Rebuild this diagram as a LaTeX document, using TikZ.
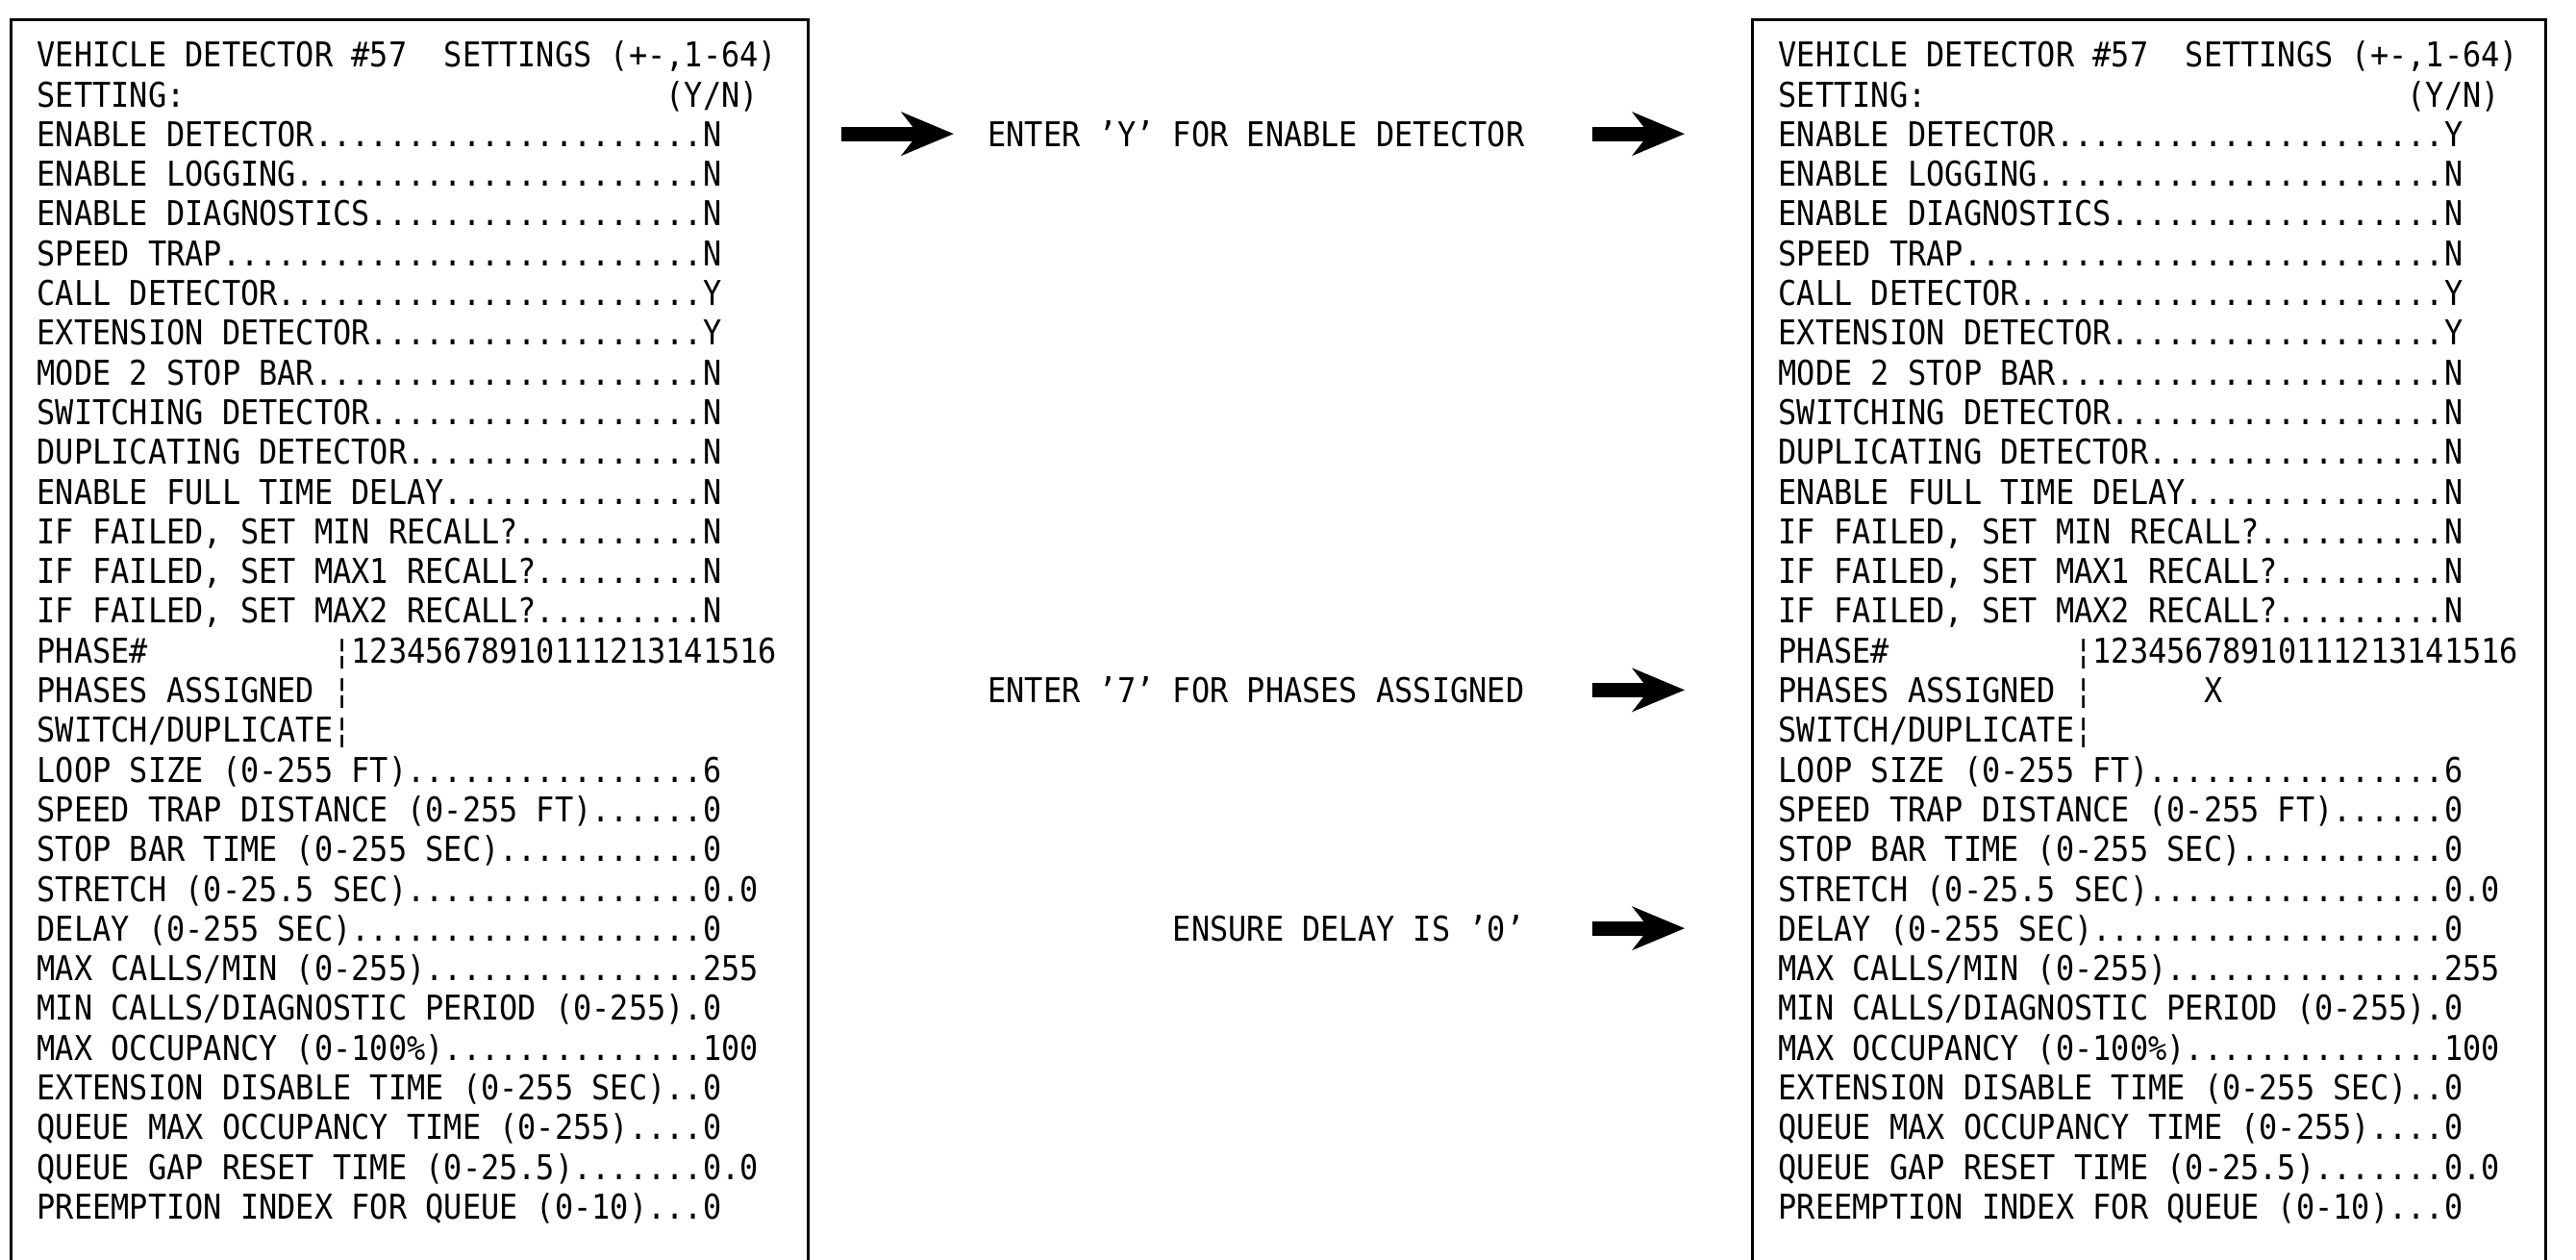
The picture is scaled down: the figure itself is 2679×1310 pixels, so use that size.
\documentclass[tikz,border=0pt]{standalone}
\usepackage{fontspec}
\newfontfamily\scrfont[FakeStretch=0.9]{DejaVu Sans Mono}
\usepackage{tikz}
\usetikzlibrary{positioning,calc,arrows.meta}

\ExplSyntaxOn
\NewDocumentCommand\dotrun{m}{\prg_replicate:nn{#1}{.}}
\NewDocumentCommand\blank{m}{\prg_replicate:nn{#1}{\nobreakspace}}
\ExplSyntaxOff

% one screen: #1 prefix, #2 text x, #3 enable detector, #4 phases assigned
\newcommand{\drawscreen}[4]{%
  \foreach \txt [count=\i] in {%
    {VEHICLE DETECTOR \#57\blank{2}SETTINGS (+-,1-64)},
    {SETTING:\blank{26}(Y/N)},
    {ENABLE DETECTOR\dotrun{21}#3},
    {ENABLE LOGGING\dotrun{22}N},
    {ENABLE DIAGNOSTICS\dotrun{18}N},
    {SPEED TRAP\dotrun{26}N},
    {CALL DETECTOR\dotrun{23}Y},
    {EXTENSION DETECTOR\dotrun{18}Y},
    {MODE 2 STOP BAR\dotrun{21}N},
    {SWITCHING DETECTOR\dotrun{18}N},
    {DUPLICATING DETECTOR\dotrun{16}N},
    {ENABLE FULL TIME DELAY\dotrun{14}N},
    {IF FAILED, SET MIN RECALL?\dotrun{10}N},
    {IF FAILED, SET MAX1 RECALL?\dotrun{9}N},
    {IF FAILED, SET MAX2 RECALL?\dotrun{9}N},
    {PHASE\#\blank{10}¦12345678910111213141516},
    {PHASES ASSIGNED ¦#4},
    {SWITCH/DUPLICATE¦},
    {LOOP SIZE (0-255 FT)\dotrun{16}6},
    {SPEED TRAP DISTANCE (0-255 FT)\dotrun{6}0},
    {STOP BAR TIME (0-255 SEC)\dotrun{11}0},
    {STRETCH (0-25.5 SEC)\dotrun{16}0.0},
    {DELAY (0-255 SEC)\dotrun{19}0},
    {MAX CALLS/MIN (0-255)\dotrun{15}255},
    {MIN CALLS/DIAGNOSTIC PERIOD (0-255)\dotrun{1}0},
    {MAX OCCUPANCY (0-100\%)\dotrun{14}100},
    {EXTENSION DISABLE TIME (0-255 SEC)\dotrun{2}0},
    {QUEUE MAX OCCUPANCY TIME (0-255)\dotrun{4}0},
    {QUEUE GAP RESET TIME (0-25.5)\dotrun{7}0.0},
    {PREEMPTION INDEX FOR QUEUE (0-10)\dotrun{3}0}%
  }{%
    \node[scrline] (#1\i) at (#2,{1240.2-(\i-1)*41.3}) {\txt};
  }%
}

\begin{document}
\begin{tikzpicture}[
        x=0.1mm, y=0.1mm,
        % screen text lines
        scrline/.style={
            anchor=base west,
            inner sep=0pt,
            font=\scrfont\fontsize{10.1}{12}\selectfont\frenchspacing
        },
        % notes between the screens
        note/.style={
            inner sep=0pt,
            font=\scrfont\fontsize{10.1}{12}\selectfont\frenchspacing
        },
        % screen frame
        screenbox/.style={
            draw=black,
            line width=0.3mm
        },
        % fat pointer arrows
        fatarrow/.style={
            line width=1.5mm,
            -{Stealth[length=5.5mm, width=4.6mm, inset=1.8mm, line width=0pt]}
        }
    ]
        \useasboundingbox (0,0) rectangle (2679,1310);

        % --- FRAMES (open at the bottom) ---
        \draw[screenbox] (11,-10) |- (840,1289) -- (840,-10);
        \draw[screenbox] (1822,-10) |- (2647,1289) -- (2647,-10);
        \coordinate (Ledge) at (840,0);
        \coordinate (Redge) at (1822,0);
        \coordinate (notecol) at (1586,0);

        % --- SCREEN TEXT ---
        \drawscreen{L}{38}{N}{}
        \drawscreen{R}{1849}{Y}{\blank{6}X}

        % --- NOTES ---
        \node[note, anchor=base east] (noteY) at (L3.base -| notecol) {ENTER ’Y’ FOR ENABLE DETECTOR};
        \node[note, anchor=base east] (note7) at (L17.base -| notecol) {ENTER ’7’ FOR PHASES ASSIGNED};
        \node[note, anchor=base east] (note0) at (L23.base -| notecol) {ENSURE DELAY IS ’0’};

        % --- ARROWS ---
        \draw[fatarrow, shorten <=3.5mm, shorten >=3.5mm] (noteY -| Ledge) -- (noteY);
        \draw[fatarrow, shorten <=7mm, shorten >=7mm] (noteY) -- (noteY -| Redge);
        \draw[fatarrow, shorten <=7mm, shorten >=7mm] (note7) -- (note7 -| Redge);
        \draw[fatarrow, shorten <=7mm, shorten >=7mm] (note0) -- (note0 -| Redge);

    \end{tikzpicture}
\end{document}
